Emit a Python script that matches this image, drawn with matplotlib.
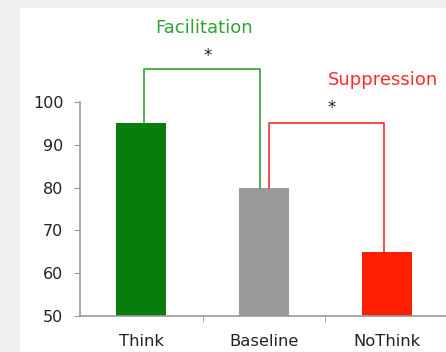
import matplotlib.pyplot as plt
from matplotlib.patches import Rectangle

# condition means
conditions = ['Think', 'Baseline', 'NoThink']
scores = [95, 80, 65]
bar_colors = ['#087d0c', '#999999', '#ff1f00']
y_ticks = [50, 60, 70, 80, 90, 100]

fig = plt.figure(figsize=(4.46, 3.52), dpi=100)
fig.patch.set_facecolor('#efefef')
fig.patches.append(Rectangle((20 / 446, 0), 1, (352 - 8) / 352,
                             transform=fig.transFigure, facecolor='white',
                             edgecolor='none', zorder=-1))

ax = fig.add_axes([80 / 446, 36 / 352, 368 / 446, 214 / 352])
ax.set_facecolor('none')
x = range(len(conditions))
ax.bar(x, scores, width=0.41, color=bar_colors, zorder=2)

ax.set_xlim(-0.5, 2.5)
ax.set_ylim(50, 100)
ax.set_yticks(y_ticks)
ax.set_xticks(list(x))
ax.set_xticklabels(conditions)
ax.set_xticks([0.5, 1.5], minor=True)
ax.tick_params(axis='x', which='major', length=0, pad=13, labelsize=11.8,
               labelcolor='#222222')
ax.tick_params(axis='x', which='minor', length=4, color='#999999')
ax.tick_params(axis='y', length=4, color='#999999', labelsize=11.5,
               labelcolor='#222222', pad=8)
for side in ['top', 'right']:
    ax.spines[side].set_visible(False)
for side in ['left', 'bottom']:
    ax.spines[side].set_color('#999999')
    ax.spines[side].set_linewidth(1.2)

# significance brackets
green = '#33a033'
red = '#ff2a2a'
ax.plot([0.02, 0.02, 0.97, 0.97], [scores[0], 107.7, 107.7, scores[1]],
        color=green, lw=1.2, clip_on=False, zorder=3)
ax.plot([1.04, 1.04, 1.98, 1.98], [scores[1], 95.1, 95.1, scores[2]],
        color=red, lw=1.2, clip_on=False, zorder=3)
ax.text(0.54, 110.8, '*', ha='center', va='center', fontsize=12,
        color='#222222', clip_on=False)
ax.text(1.55, 98.6, '*', ha='center', va='center', fontsize=12,
        color='#222222', clip_on=False)
ax.text(0.51, 117.3, 'Facilitation', ha='center', va='center',
        fontsize=13, color=green, clip_on=False)
ax.text(1.97, 105.1, 'Suppression', ha='center', va='center',
        fontsize=13, color=red, clip_on=False)

plt.savefig('out.png', dpi=100, facecolor=fig.get_facecolor())
